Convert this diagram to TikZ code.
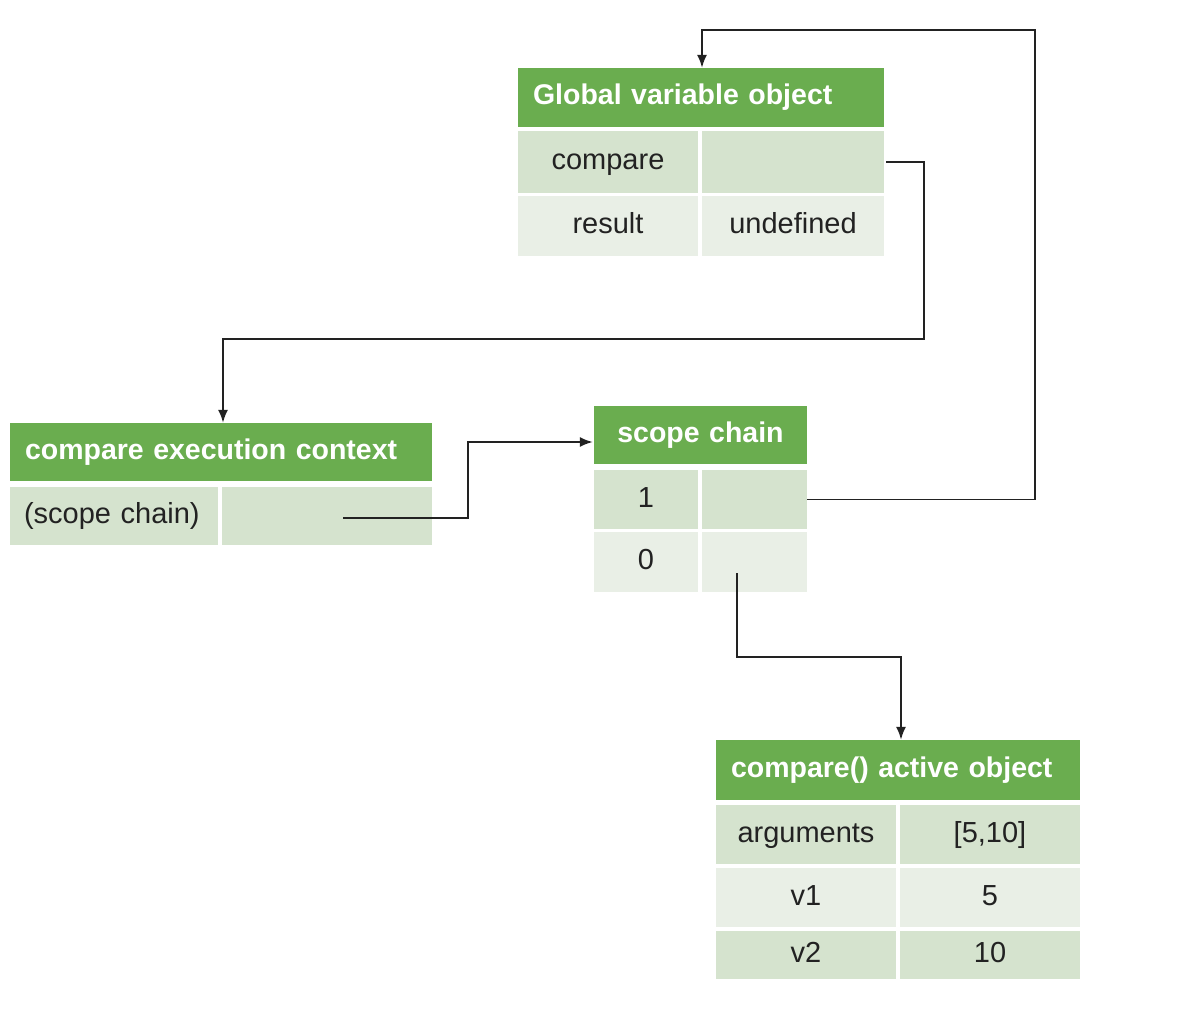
\documentclass[tikz,border=0pt]{standalone}
\usepackage{fontspec}
\setmainfont{Liberation Sans}
\usetikzlibrary{arrows.meta,calc}
\definecolor{hdrgreen}{HTML}{6AAD4F}
\definecolor{rowdark}{HTML}{D5E3CE}
\definecolor{rowlight}{HTML}{E9EFE6}
\definecolor{inkc}{HTML}{222222}
\begin{document}
\begin{tikzpicture}[x=1pt,y=-1pt,
  hdrcell/.style={fill=hdrgreen, text=white, inner ysep=0pt, inner xsep=15pt,
    text height=21pt, text depth=6pt,
    font=\fontsize{28.5}{32}\selectfont\bfseries},
  cellbase/.style={inner sep=0pt, text=inkc, text height=21pt, text depth=6pt,
    font=\fontsize{29}{32}\selectfont},
  darkcell/.style={cellbase, fill=rowdark},
  lightcell/.style={cellbase, fill=rowlight},
  conn/.style={draw=inkc, line width=1.8pt, -{Latex[length=13pt,width=10pt]}}
]
\useasboundingbox (0,0) rectangle (1186,1022);

% Global variable object
\node[hdrcell, text width=336pt, align=left, minimum height=59pt] (gh) at (701,97.5) {Global variable object};
\node[darkcell, minimum width=180pt, minimum height=62pt] (g1a) at (608,162) {compare};
\node[darkcell, minimum width=182pt, minimum height=62pt] (g1b) at (793,162) {};
\node[lightcell, minimum width=180pt, minimum height=60pt] (g2a) at (608,226) {result};
\node[lightcell, minimum width=182pt, minimum height=60pt] (g2b) at (793,226) {undefined};

% compare execution context
\node[hdrcell, text width=392pt, align=left, minimum height=58pt] (eh) at (221,452) {compare execution context};
\node[darkcell, minimum width=208pt, minimum height=58pt, text width=180pt, align=left] (e1a) at (114,516) {(scope chain)};
\node[darkcell, minimum width=210pt, minimum height=58pt] (e1b) at (327,516) {};

% scope chain
\node[hdrcell, text width=183pt, align=center, minimum height=58pt] (sh) at (700.5,435) {scope chain};
\node[darkcell, minimum width=104pt, minimum height=59pt] (s1a) at (646,499.5) {1};
\node[darkcell, minimum width=105pt, minimum height=59pt] (s1b) at (754.5,499.5) {};
\node[lightcell, minimum width=104pt, minimum height=60pt] (s0a) at (646,562) {0};
\node[lightcell, minimum width=105pt, minimum height=60pt] (s0b) at (754.5,562) {};

% compare() active object
\node[hdrcell, text width=334pt, align=left, minimum height=60pt] (ah) at (898,770) {compare() active object};
\node[darkcell, minimum width=180pt, minimum height=59pt] (a1a) at (806,834.5) {arguments};
\node[darkcell, minimum width=180pt, minimum height=59pt] (a1b) at (990,834.5) {[5,10]};
\node[lightcell, minimum width=180pt, minimum height=59pt] (a2a) at (806,897.5) {v1};
\node[lightcell, minimum width=180pt, minimum height=59pt] (a2b) at (990,897.5) {5};
\node[darkcell, minimum width=180pt, minimum height=48pt] (a3a) at (806,955) {v2};
\node[darkcell, minimum width=180pt, minimum height=48pt] (a3b) at (990,955) {10};

% connectors
\coordinate (c1) at (1035,30);
\draw[conn] (s1b.east) -| (c1) -| ([xshift=1pt]gh.north);

\coordinate (c2) at (924,339);
\draw[conn] ([xshift=2pt]g1b.east) -| (c2) -| ([xshift=2pt]eh.north);

\coordinate (e1start) at (343,518);
\coordinate (c3) at (468,442);
\draw[conn] (e1start) -| (c3) -- ([yshift=-7pt,xshift=-1pt]sh.west);

\coordinate (s0start) at (737,573);
\coordinate (c4) at (737,657);
\draw[conn] (s0start) -- (c4) -| ([xshift=3pt]ah.north);
\end{tikzpicture}
\end{document}
